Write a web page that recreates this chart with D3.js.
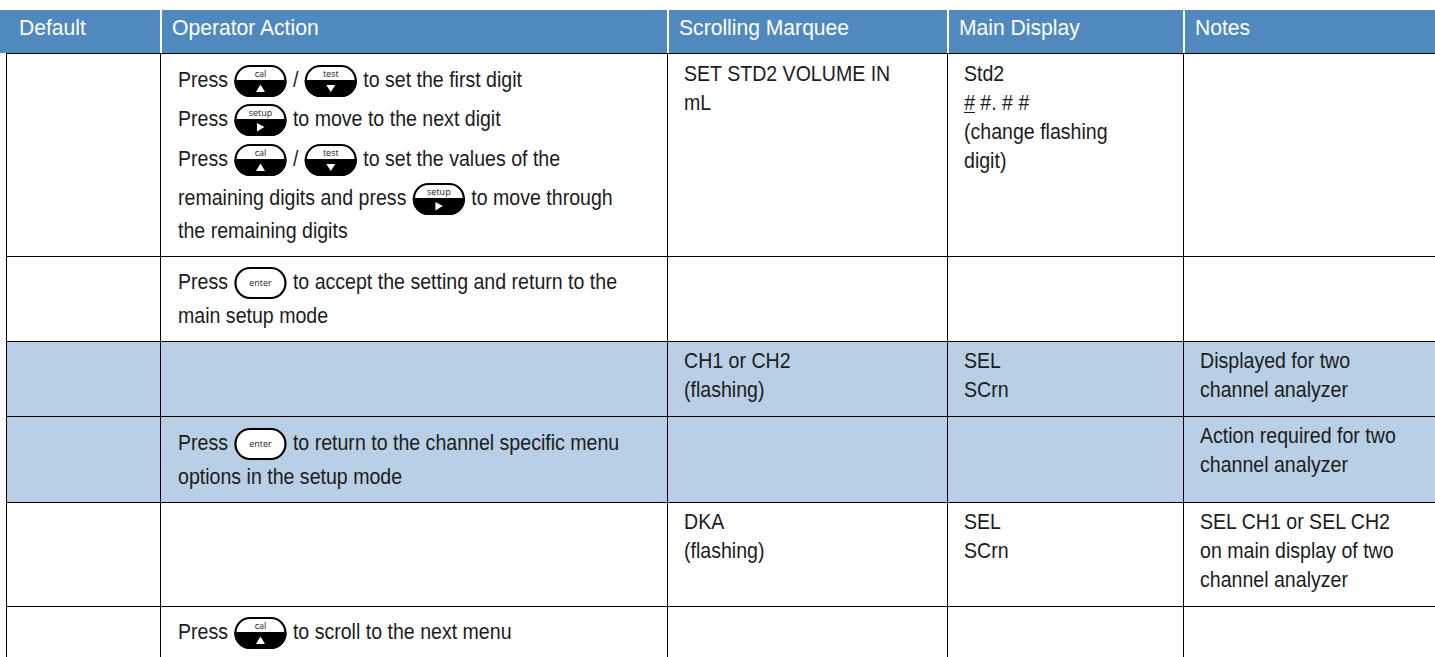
<!DOCTYPE html>
<html>
<head>
<meta charset="utf-8">
<script src="https://d3js.org/d3.v7.min.js"></script>
<style>
html,body{margin:0;padding:0;background:#fff;overflow:hidden}
svg{display:block}
text{font-family:"Liberation Sans",Arial,sans-serif}
</style>
</head>
<body>
<svg></svg>
<script>
var headers = ['Default', 'Operator Action', 'Scrolling Marquee', 'Main Display', 'Notes'];

// one entry per table row, {name} marks a key glyph in the action text
var operatorAction = [
  ['Press {cal} / {test} to set the first digit', 'Press {setup} to move to the next digit', 'Press {cal} / {test} to set the values of the', 'remaining digits and press {setup} to move through', 'the remaining digits'],
  ['Press {enter} to accept the setting and return to the', 'main setup mode'],
  [],
  ['Press {enter} to return to the channel specific menu', 'options in the setup mode'],
  [],
  ['Press {cal} to scroll to the next menu']
];
var scrollingMarquee = [
  ['SET STD2 VOLUME IN', 'mL'], [], ['CH1 or CH2', '(flashing)'], [], ['DKA', '(flashing)'], []
];
var mainDisplay = [
  ['Std2', '# #. # #', '(change flashing', 'digit)'], [], ['SEL', 'SCrn'], [], ['SEL', 'SCrn'], []
];
var notes = [
  [], [], ['Displayed for two', 'channel analyzer'], ['Action required for two', 'channel analyzer'], ['SEL CH1 or SEL CH2', 'on main display of two', 'channel analyzer'], []
];
var shadedRows = [2, 3];

// layout
var width = 1435;
var height = 657;
var HEAD_TOP = 10;
var GRID_LEFT = 6;
var FONT_SIZE = 22;
var SQUEEZE = 0.89;      // no narrow face installed, so the regular one is squeezed
var HEAD_SQUEEZE = 0.96;
var LINE_STEP = 29;
var BLUE = '#4f89bd';
var LIGHT = '#b8cfe5';
var INK = '#1c1c1c';

var columnEdge = d3.scaleOrdinal().domain(d3.range(6)).range([0, 160, 667, 947, 1183, 1435]);
var rowEdge = d3.scaleOrdinal().domain(d3.range(7)).range([53, 256, 341, 416, 502, 606, 657]);
var actionLineY = {0: [87, 126, 166, 205, 238], 1: [289, 323], 3: [450, 484], 5: [639]};

var svg = d3.select('svg').attr('width', width).attr('height', height);

// header band
var head = svg.append('g').selectAll('g').data(headers).enter().append('g');

head.append('rect')
  .attr('x', function(d, i){ return i ? columnEdge(i) + 2 : 0; })
  .attr('y', HEAD_TOP)
  .attr('width', function(d, i){ return columnEdge(i + 1) - columnEdge(i) - (i ? 2 : 0); })
  .attr('height', rowEdge(0) - HEAD_TOP)
  .attr('fill', BLUE);

head.append('text')
  .attr('transform', function(d, i){
    return 'translate(' + (i ? columnEdge(i) + 12 : 19) + ',35) scale(' + HEAD_SQUEEZE + ',1)';
  })
  .attr('font-size', FONT_SIZE)
  .attr('fill', '#fff')
  .text(function(d){ return d; });

// shaded rows
svg.append('g').selectAll('rect').data(shadedRows).enter().append('rect')
  .attr('x', GRID_LEFT)
  .attr('y', function(d){ return rowEdge(d); })
  .attr('width', width - GRID_LEFT)
  .attr('height', function(d){ return rowEdge(d + 1) - rowEdge(d); })
  .attr('fill', LIGHT);

// grid
svg.append('g').selectAll('line').data(d3.range(6)).enter().append('line')
  .attr('x1', GRID_LEFT)
  .attr('x2', width)
  .attr('y1', function(d){ return rowEdge(d) + .5; })
  .attr('y2', function(d){ return rowEdge(d) + .5; })
  .attr('stroke', '#000');

svg.append('g').selectAll('line').data([GRID_LEFT, columnEdge(1), columnEdge(2), columnEdge(3), columnEdge(4)]).enter().append('line')
  .attr('x1', function(d){ return d + .5; })
  .attr('x2', function(d){ return d + .5; })
  .attr('y1', rowEdge(0))
  .attr('y2', height)
  .attr('stroke', '#000');

function addText(x, y, str){
  return svg.append('text')
    .attr('transform', 'translate(' + x + ',' + y + ') scale(' + SQUEEZE + ',1)')
    .attr('font-size', FONT_SIZE)
    .attr('fill', INK)
    .text(str);
}

// key glyph, black lower half except for the enter key
function drawKey(name, x, baseline){
  var w = 50, h = 30;
  var g = svg.append('g').attr('transform', 'translate(' + x + ',' + (baseline - 21) + ')');
  var outline = 'M15 0H' + (w - 15) + 'C' + (w - 5) + ' 0 ' + w + ' 8 ' + w + ' 15C' + w + ' 22 ' + (w - 5) + ' ' + h + ' ' + (w - 15) + ' ' + h + 'H15C5 ' + h + ' 0 22 0 15C0 8 5 0 15 0Z';

  g.append('path')
    .attr('d', outline)
    .attr('fill', '#fff')
    .attr('stroke', '#000')
    .attr('stroke-width', 2.2);

  if (name === 'enter') {
    g.append('text')
      .attr('x', w / 2)
      .attr('y', 18)
      .attr('text-anchor', 'middle')
      .style('font-family', '"Open Sans"')
      .attr('font-size', 9)
      .attr('fill', '#222')
      .text(name);
    return w;
  }

  g.append('path')
    .attr('d', 'M0 15H' + w + 'C' + w + ' 22 ' + (w - 5) + ' ' + h + ' ' + (w - 15) + ' ' + h + 'H15C5 ' + h + ' 0 22 0 15Z')
    .attr('fill', '#000')
    .attr('stroke', '#000')
    .attr('stroke-width', 2.2);

  g.append('text')
    .attr('x', w / 2)
    .attr('y', 11)
    .attr('text-anchor', 'middle')
    .style('font-family', '"Open Sans"')
    .attr('font-size', 9)
    .attr('fill', '#222')
    .text(name);

  var c = w / 2;
  var tri = name === 'cal' ? [[c - 4.5, 26], [c + 4.5, 26], [c, 18.5]]
    : name === 'test' ? [[c - 4.5, 19], [c + 4.5, 19], [c, 26]]
    : [[c - 3.5, 18], [c - 3.5, 26.5], [c + 4, 22]];
  g.append('polygon').attr('points', tri.join(' ')).attr('fill', '#fff');
  return w;
}

// operator action column, measured run by run so keys fall in line with the text
operatorAction.forEach(function(lines, r){
  lines.forEach(function(line, l){
    var x = 178;
    var y = actionLineY[r][l];
    line.split(/(\{[a-z]+\})/).forEach(function(part){
      if (!part) return;
      if (part[0] === '{') {
        x += 2;
        x += drawKey(part.slice(1, -1), x, y) + 2;
      } else {
        var t = addText(x, y, part.replace(/ /g, '\u00a0'));
        x += t.node().getComputedTextLength() * SQUEEZE;
      }
    });
  });
});

// plain text columns
function plainColumn(rows, colIndex){
  rows.forEach(function(lines, r){
    lines.forEach(function(line, l){
      var x = columnEdge(colIndex) + 17;
      var y = rowEdge(r) + 27 + l * LINE_STEP + (r === 0 ? 1 : 0);
      if (line[0] === '#') {
        // flashing digit: first one is italic and underlined
        var t = addText(x, y, '');
        t.append('tspan').attr('font-style', 'italic').text(line[0]);
        t.append('tspan').text(line.slice(1));
        svg.append('line')
          .attr('x1', x)
          .attr('x2', x + 11)
          .attr('y1', y + 2.5)
          .attr('y2', y + 2.5)
          .attr('stroke', INK);
      } else {
        addText(x, y, line);
      }
    });
  });
}
plainColumn(scrollingMarquee, 2);
plainColumn(mainDisplay, 3);
plainColumn(notes, 4);
</script>
</body>
</html>
